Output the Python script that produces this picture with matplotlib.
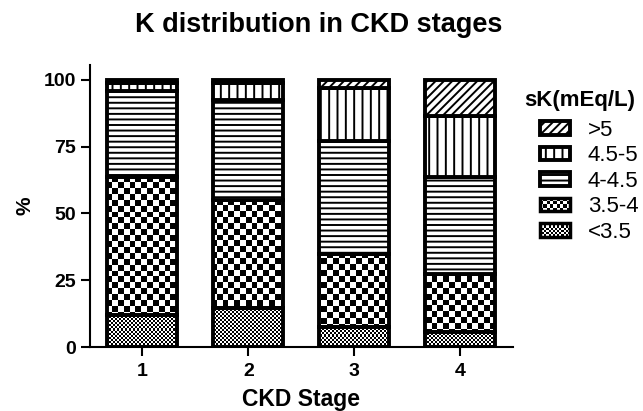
import numpy as np
import matplotlib
matplotlib.use("Agg")
import matplotlib.pyplot as plt
from matplotlib.patches import Rectangle
from matplotlib.legend_handler import HandlerBase

plt.rcParams['font.family'] = ['Liberation Sans', 'DejaVu Sans']
plt.rcParams['hatch.linewidth'] = 1.4

# data (percent of patients per CKD stage)
stages = ['1', '2', '3', '4']
lt35 = [12.0, 14.5, 7.5, 5.5]
k35_4 = [51.5, 40.5, 27.5, 22.0]
k4_45 = [32.5, 37.5, 42.0, 36.0]
k45_5 = [2.8, 6.5, 20.0, 23.0]
gt5 = [1.2, 1.0, 3.0, 13.5]

series = [
    ('<3.5', lt35, 'check_s'),
    ('3.5-4', k35_4, 'check_l'),
    ('4-4.5', k4_45, '---'),
    ('4.5-5', k45_5, '||'),
    ('>5', gt5, '////'),
]
cell_px = {'check_s': 2.0, 'check_l': 5.8}


class CheckerHandler(HandlerBase):
    def __init__(self, cell):
        super().__init__()
        self.cell = cell

    def create_artists(self, legend, orig_handle, xdescent, ydescent,
                       width, height, fontsize, trans):
        x0, y0 = -xdescent, -ydescent
        arts = [Rectangle((x0, y0), width, height, facecolor='white',
                          edgecolor='none', transform=trans)]
        nx = max(int(round(width / self.cell)), 1)
        ny = max(int(round(height / self.cell)), 1)
        cw, ch = width / nx, height / ny
        for i in range(nx):
            for j in range(ny):
                if (i + j) % 2 == 0:
                    arts.append(Rectangle((x0 + i * cw, y0 + j * ch), cw, ch,
                                          facecolor='black', edgecolor='none',
                                          transform=trans))
        arts.append(Rectangle((x0, y0), width, height, facecolor='none',
                              edgecolor='black', lw=2.5, transform=trans))
        return arts


fig = plt.figure(figsize=(6.43, 4.11), dpi=100)
ax = fig.add_axes([89.5 / 643, 1 - 347 / 411, 423.5 / 643, 282 / 411])
ax.set_xlim(0.5, 4.5)
ax.set_ylim(0, 105.6)

x = np.arange(1, len(stages) + 1)
bottom = np.zeros(len(stages))
handles = {}
wpx = ax.get_window_extent().width
hpx = ax.get_window_extent().height
for name, vals, pat in series:
    if pat.startswith('check'):
        bars = ax.bar(x, vals, 0.66, bottom=bottom, facecolor='none',
                      edgecolor='black', linewidth=2.8, zorder=2)
        c = cell_px[pat]
        ny, nx = int(hpx / c), int(wpx / c)
        board = np.indices((ny, nx)).sum(axis=0) % 2
        for rect in bars.patches:
            im = ax.imshow(board, cmap='gray', vmin=0, vmax=1, origin='lower',
                           extent=(0.5, 4.5, 0, 105.6), aspect='auto',
                           interpolation='nearest', zorder=1.5)
            im.set_clip_path(rect)
    else:
        bars = ax.bar(x, vals, 0.66, bottom=bottom, facecolor='white',
                      edgecolor='black', linewidth=2.8, hatch=pat, zorder=2)
    handles[name] = bars
    bottom = bottom + np.array(vals)

ax.set_xlim(0.5, 4.5)
ax.set_ylim(0, 105.6)
ax.set_xticks(x)
ax.set_xticklabels(stages)
ax.set_yticks([0, 25, 50, 75, 100])
for s in ['top', 'right']:
    ax.spines[s].set_visible(False)
for s in ['left', 'bottom']:
    ax.spines[s].set_linewidth(1.5)
ax.tick_params(direction='out', length=6.5, width=1.5, labelsize=14, pad=3)
ax.tick_params(axis='x', pad=5)
for lab in ax.get_xticklabels() + ax.get_yticklabels():
    lab.set_fontweight('bold')

ax.set_xlabel('CKD Stage', fontsize=16.5, fontweight='bold', labelpad=6)
ax.set_ylabel('%', fontsize=15, fontweight='bold')
ax.yaxis.set_label_coords(-0.131, 0.5)
fig.text(0.495, 0.94, 'K distribution in CKD stages', ha='center',
         va='center', fontsize=19.5, fontweight='bold')

# legend title placed on its own, entries below it
fig.text(580 / 643, 1 - 100 / 411, 'sK(mEq/L)', ha='center', va='center',
         fontsize=16, fontweight='bold')
order = ['>5', '4.5-5', '4-4.5', '3.5-4', '<3.5']
leg = ax.legend([handles[n] for n in order], order,
                handler_map={handles['<3.5']: CheckerHandler(1.5),
                             handles['3.5-4']: CheckerHandler(2.3)},
                loc='upper left', bbox_to_anchor=(540 / 643, 1 - 120 / 411),
                bbox_transform=fig.transFigure, frameon=False, fontsize=16,
                handlelength=1.35, handleheight=0.55,
                handletextpad=0.8, labelspacing=0.2, borderaxespad=0,
                borderpad=0)

fig.savefig('out.png', dpi=100)
